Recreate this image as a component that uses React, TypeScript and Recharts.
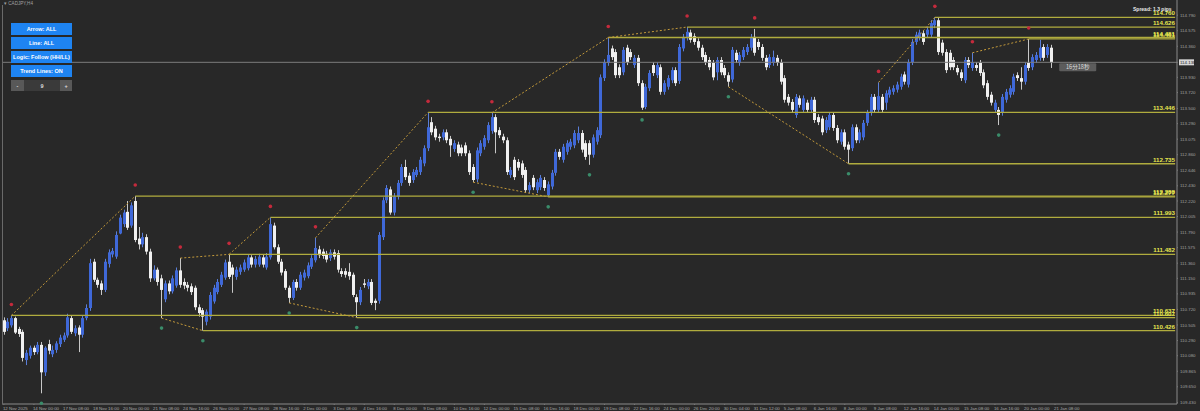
import React from 'react'
import { ComposedChart, Bar, XAxis, YAxis, ReferenceLine, ReferenceDot } from 'recharts'

// CADJPY H4 candles
const opens = [
  110.57, 110.46, 110.50, 110.60, 110.45, 110.41, 110.02, 110.08, 110.19, 110.13,
  110.23, 109.85, 110.24, 110.10, 110.16, 110.24, 110.30, 110.36, 110.60, 110.39,
  110.47, 110.37, 110.60, 110.74, 111.38, 111.13, 111.08, 110.99, 111.35, 111.48,
  111.45, 111.77, 111.90, 112.07, 111.88, 112.22, 111.70, 111.62, 111.72, 111.52,
  111.15, 111.27, 111.15, 110.86, 111.08, 110.97, 111.05, 111.26, 111.10, 111.06,
  111.04, 111.02, 110.75, 110.71, 110.55, 110.62, 110.83, 110.96, 111.06, 111.16,
  111.38, 111.30, 111.17, 111.24, 111.27, 111.29, 111.44, 111.34, 111.34, 111.44,
  111.30, 111.44, 111.88, 111.58, 111.38, 111.25, 111.02, 110.88, 111.10, 111.02,
  111.16, 111.18, 111.31, 111.40, 111.55, 111.52, 111.49, 111.43, 111.51, 111.50,
  111.25, 111.25, 111.24, 111.20, 110.89, 110.82, 111.08, 111.04, 111.10, 110.84,
  110.84, 111.72, 112.23, 112.38, 112.06, 112.28, 112.47, 112.69, 112.57, 112.51,
  112.58, 112.62, 112.74, 112.95, 113.31, 113.22, 113.11, 113.10, 113.17, 113.08,
  112.94, 113.00, 112.96, 112.99, 112.88, 112.69, 112.52, 112.88, 112.97, 113.06,
  113.19, 113.38, 113.20, 113.11, 113.06, 112.58, 112.79, 112.76, 112.74, 112.65,
  112.37, 112.54, 112.37, 112.41, 112.51, 112.30, 112.42, 112.61, 112.90, 112.79,
  112.90, 112.97, 112.99, 113.06, 113.16, 113.02, 113.02, 112.86, 113.04, 113.13,
  113.92, 114.13, 114.33, 114.28, 114.07, 114.00, 114.34, 114.28, 114.10, 114.20,
  113.85, 113.52, 113.78, 114.10, 113.96, 114.07, 113.73, 113.80, 113.89, 114.03,
  113.88, 114.33, 114.48, 114.55, 114.50, 114.43, 114.34, 114.24, 114.17, 114.13,
  114.00, 114.17, 114.06, 113.96, 113.90, 114.27, 114.13, 114.21, 114.28, 114.34,
  114.49, 114.42, 114.35, 114.20, 114.10, 114.13, 114.20, 114.14, 113.92, 113.66,
  113.59, 113.41, 113.64, 113.48, 113.58, 113.48, 113.62, 113.38, 113.36, 113.20,
  113.24, 113.41, 113.23, 113.04, 113.17, 113.00, 112.95, 113.24, 113.06, 113.10,
  113.30, 113.44, 113.66, 113.48, 113.66, 113.58, 113.69, 113.73, 113.76, 113.80,
  113.97, 113.83, 114.14, 114.42, 114.48, 114.54, 114.52, 114.52, 114.65, 114.72,
  114.41, 114.28, 114.27, 114.17, 114.06, 114.00, 113.89, 114.17, 114.06, 114.10,
  114.13, 114.00, 113.85, 113.69, 113.48, 113.48, 113.44, 113.62, 113.69, 113.73,
  113.96, 113.92, 113.87, 114.13, 114.07, 114.17, 114.20, 114.35, 114.24, 114.34,
]
const highs = [
  110.61, 110.60, 110.637, 110.62, 110.48, 110.44, 110.16, 110.22, 110.22, 110.27,
  110.27, 110.21, 110.30, 110.22, 110.28, 110.37, 110.40, 110.66, 110.64, 110.50,
  110.50, 110.64, 110.79, 111.42, 111.42, 111.16, 111.12, 111.42, 111.55, 111.57,
  111.80, 112.03, 112.10, 112.22, 112.20, 112.288, 111.86, 111.78, 111.76, 111.56,
  111.33, 111.30, 111.20, 111.12, 111.12, 111.19, 111.30, 111.43, 111.15, 111.10,
  111.08, 111.05, 110.79, 110.74, 110.72, 110.96, 111.06, 111.14, 111.24, 111.41,
  111.482, 111.34, 111.31, 111.34, 111.41, 111.48, 111.47, 111.46, 111.49, 111.48,
  111.50, 111.993, 111.92, 111.62, 111.42, 111.28, 111.05, 111.13, 111.14, 111.24,
  111.27, 111.37, 111.47, 111.71, 111.60, 111.56, 111.53, 111.55, 111.55, 111.54,
  111.29, 111.29, 111.36, 111.23, 110.93, 111.03, 111.14, 111.14, 111.14, 110.87,
  111.79, 112.27, 112.44, 112.42, 112.33, 112.51, 112.73, 112.79, 112.61, 112.66,
  112.69, 112.83, 112.99, 113.446, 113.38, 113.26, 113.15, 113.21, 113.21, 113.12,
  113.06, 113.04, 113.00, 113.03, 112.92, 112.73, 112.96, 113.06, 113.13, 113.31,
  113.44, 113.42, 113.24, 113.15, 113.10, 112.69, 112.83, 112.80, 112.78, 112.69,
  112.48, 112.58, 112.52, 112.58, 112.55, 112.49, 112.65, 112.94, 112.94, 113.01,
  113.06, 113.08, 113.20, 113.25, 113.20, 113.06, 113.06, 113.14, 113.24, 113.97,
  114.18, 114.481, 114.37, 114.32, 114.11, 114.35, 114.38, 114.32, 114.24, 114.24,
  113.89, 113.84, 114.03, 114.14, 114.14, 114.11, 113.89, 113.96, 114.07, 114.07,
  114.39, 114.53, 114.626, 114.59, 114.54, 114.47, 114.38, 114.28, 114.21, 114.17,
  114.21, 114.21, 114.10, 114.00, 114.35, 114.31, 114.28, 114.35, 114.39, 114.53,
  114.60, 114.46, 114.39, 114.24, 114.25, 114.30, 114.24, 114.18, 113.96, 113.70,
  113.63, 113.70, 113.68, 113.68, 113.62, 113.66, 113.66, 113.42, 113.40, 113.38,
  113.45, 113.45, 113.27, 113.21, 113.21, 113.04, 113.28, 113.28, 113.21, 113.34,
  113.48, 113.70, 113.70, 113.86, 113.70, 113.75, 113.80, 113.82, 113.87, 113.98,
  114.01, 114.18, 114.46, 114.56, 114.59, 114.58, 114.63, 114.72, 114.76, 114.76,
  114.45, 114.32, 114.31, 114.21, 114.10, 114.04, 114.21, 114.21, 114.27, 114.14,
  114.17, 114.04, 113.89, 113.73, 113.62, 113.52, 113.70, 113.77, 113.82, 113.98,
  114.00, 114.07, 114.14, 114.461, 114.25, 114.28, 114.45, 114.39, 114.39, 114.38,
]
const lows = [
  110.37, 110.42, 110.47, 110.38, 110.34, 110.00, 109.95, 110.04, 110.09, 110.10,
  109.56, 109.80, 110.10, 110.06, 110.12, 110.20, 110.27, 110.33, 110.38, 110.35,
  110.13, 110.33, 110.57, 110.70, 111.10, 111.02, 110.92, 110.96, 111.30, 111.44,
  111.42, 111.76, 111.86, 111.82, 111.85, 111.65, 111.55, 111.58, 111.48, 111.10,
  111.12, 111.05, 110.60, 110.82, 110.93, 110.94, 111.02, 111.02, 111.00, 110.97,
  110.92, 110.71, 110.62, 110.426, 110.50, 110.58, 110.80, 110.93, 111.03, 111.13,
  111.14, 110.95, 111.13, 111.20, 111.24, 111.26, 111.30, 111.30, 111.31, 111.30,
  111.27, 111.41, 111.55, 111.35, 111.19, 110.99, 110.81, 110.85, 110.98, 110.99,
  111.12, 111.15, 111.28, 111.37, 111.43, 111.42, 111.37, 111.39, 111.41, 111.23,
  111.17, 111.16, 111.13, 110.89, 110.607, 110.78, 111.02, 111.00, 110.78, 110.71,
  110.80, 111.68, 112.19, 112.03, 112.02, 112.24, 112.43, 112.51, 112.43, 112.47,
  112.55, 112.58, 112.70, 112.91, 113.13, 113.06, 113.04, 113.06, 113.02, 112.83,
  112.90, 112.84, 112.84, 112.84, 112.58, 112.48, 112.48, 112.84, 112.93, 113.02,
  113.15, 112.88, 113.09, 113.02, 112.58, 112.54, 112.51, 112.64, 112.54, 112.33,
  112.33, 112.37, 112.33, 112.37, 112.36, 112.277, 112.38, 112.57, 112.79, 112.75,
  112.86, 112.93, 112.95, 113.02, 112.89, 112.79, 112.72, 112.82, 113.00, 113.09,
  113.88, 114.09, 114.17, 113.92, 113.92, 113.96, 114.10, 114.17, 114.06, 113.81,
  113.48, 113.49, 113.74, 113.95, 113.92, 113.69, 113.69, 113.76, 113.85, 113.81,
  113.84, 114.29, 114.44, 114.41, 114.38, 114.30, 114.17, 114.10, 114.03, 113.89,
  113.89, 113.96, 113.92, 113.80, 113.86, 114.13, 114.09, 114.17, 114.24, 114.30,
  114.23, 114.31, 114.16, 114.03, 114.06, 114.09, 114.09, 113.83, 113.58, 113.54,
  113.44, 113.37, 113.51, 113.44, 113.44, 113.44, 113.30, 113.27, 113.13, 113.16,
  113.20, 113.19, 113.02, 113.00, 112.93, 112.735, 112.91, 113.02, 113.02, 113.06,
  113.26, 113.40, 113.44, 113.44, 113.44, 113.48, 113.65, 113.69, 113.72, 113.76,
  113.83, 113.79, 114.10, 114.38, 114.44, 114.38, 114.48, 114.48, 114.61, 114.24,
  114.23, 113.99, 114.03, 114.03, 113.96, 113.88, 113.85, 114.06, 114.02, 114.02,
  113.95, 113.78, 113.62, 113.54, 113.44, 113.27, 113.40, 113.58, 113.65, 113.69,
  113.88, 113.76, 113.83, 114.02, 114.03, 114.13, 114.16, 114.16, 114.20, 114.06,
]
const closes = [
  110.41, 110.55, 110.60, 110.40, 110.38, 110.05, 110.12, 110.19, 110.13, 110.23,
  109.85, 110.19, 110.15, 110.16, 110.25, 110.33, 110.36, 110.61, 110.41, 110.46,
  110.37, 110.60, 110.74, 111.36, 111.13, 111.06, 110.99, 111.38, 111.51, 111.53,
  111.75, 111.99, 112.06, 111.85, 112.16, 111.68, 111.62, 111.72, 111.52, 111.15,
  111.27, 111.10, 110.99, 111.08, 110.97, 111.15, 111.26, 111.06, 111.05, 111.02,
  110.96, 110.75, 110.67, 110.62, 110.69, 110.92, 111.02, 111.10, 111.20, 111.37,
  111.17, 111.20, 111.27, 111.30, 111.37, 111.44, 111.34, 111.42, 111.45, 111.34,
  111.45, 111.90, 111.58, 111.38, 111.23, 111.02, 110.88, 111.10, 111.02, 111.20,
  111.23, 111.33, 111.43, 111.57, 111.47, 111.46, 111.41, 111.51, 111.45, 111.27,
  111.21, 111.20, 111.18, 110.92, 110.82, 110.99, 111.06, 111.10, 110.81, 110.81,
  111.75, 112.23, 112.40, 112.06, 112.28, 112.47, 112.69, 112.55, 112.47, 112.62,
  112.65, 112.79, 112.95, 113.24, 113.17, 113.10, 113.09, 113.17, 113.06, 112.99,
  113.02, 112.88, 112.88, 112.88, 112.62, 112.51, 112.92, 113.02, 113.09, 113.27,
  113.38, 113.17, 113.13, 113.06, 112.62, 112.65, 112.55, 112.68, 112.58, 112.37,
  112.44, 112.41, 112.48, 112.54, 112.40, 112.45, 112.61, 112.90, 112.83, 112.97,
  113.02, 113.04, 113.16, 113.16, 112.93, 112.83, 112.86, 113.10, 113.20, 113.93,
  114.14, 114.24, 114.21, 113.96, 113.96, 114.31, 114.14, 114.21, 114.20, 113.85,
  113.51, 113.80, 113.99, 113.99, 114.10, 113.73, 113.85, 113.92, 114.03, 113.85,
  114.35, 114.49, 114.56, 114.45, 114.42, 114.34, 114.21, 114.14, 114.07, 113.93,
  114.17, 114.00, 113.96, 113.87, 114.31, 114.17, 114.24, 114.31, 114.35, 114.49,
  114.27, 114.35, 114.20, 114.07, 114.21, 114.21, 114.13, 113.87, 113.62, 113.58,
  113.48, 113.66, 113.55, 113.64, 113.48, 113.62, 113.34, 113.31, 113.17, 113.34,
  113.41, 113.23, 113.06, 113.17, 112.97, 112.93, 113.24, 113.06, 113.17, 113.30,
  113.44, 113.66, 113.48, 113.67, 113.48, 113.71, 113.76, 113.78, 113.83, 113.94,
  113.87, 114.14, 114.42, 114.52, 114.55, 114.42, 114.59, 114.68, 114.72, 114.28,
  114.27, 114.03, 114.07, 114.07, 114.00, 113.92, 114.17, 114.10, 114.14, 114.06,
  113.99, 113.82, 113.66, 113.58, 113.58, 113.41, 113.66, 113.73, 113.78, 113.94,
  113.92, 113.87, 114.10, 114.06, 114.21, 114.24, 114.34, 114.20, 114.35, 114.138,
]

const xTickIdx = [
  0, 8, 16, 24, 32, 40, 48, 56, 64, 72, 80, 88, 96, 104, 112, 120, 128, 136,
  144, 152, 160, 168, 176, 184, 192, 200, 208, 216, 224, 232, 240, 248, 256, 264, 272, 280,
]
const xTickLabels = [
  '12 Nov 2025', '14 Nov 00:00', '17 Nov 08:00', '18 Nov 16:00', '20 Nov 00:00', '21 Nov 08:00',
  '24 Nov 16:00', '26 Nov 00:00', '27 Nov 08:00', '28 Nov 16:00', '2 Dec 00:00', '3 Dec 08:00',
  '4 Dec 16:00', '8 Dec 00:00', '9 Dec 08:00', '10 Dec 16:00', '12 Dec 00:00', '15 Dec 08:00',
  '16 Dec 16:00', '18 Dec 00:00', '19 Dec 08:00', '22 Dec 16:00', '24 Dec 00:00', '26 Dec 20:00',
  '30 Dec 04:00', '31 Dec 12:00', '5 Jan 08:00', '6 Jan 16:00', '8 Jan 00:00', '9 Jan 08:00',
  '12 Jan 16:00', '14 Jan 00:00', '15 Jan 08:00', '16 Jan 16:00', '20 Jan 00:00', '21 Jan 08:00',
]
const yTicks = [
  114.79, 114.575, 114.36, 113.93, 113.72, 113.5, 113.29, 113.075, 112.86, 112.646,
  112.43, 112.22, 112.005, 111.79, 111.575, 111.36, 111.15, 110.935, 110.72, 110.505,
  110.29, 110.08, 109.865, 109.65, 109.43,
]
const currentPrice = 114.138

// horizontal S/R levels: candle where it starts + price
const levelStart = [2, 35, 53, 60, 71, 94, 113, 145, 161, 182, 225, 248, 273]
const levelValue = [110.637, 112.288, 110.426, 111.482, 111.993, 110.607, 113.446, 112.277, 114.481, 114.626, 112.735, 114.76, 114.461]

// swing points (arrows) and the dotted trend lines between them
const swingHighs = [2, 35, 47, 60, 71, 83, 113, 130, 161, 182, 200, 233, 248, 258, 273]
const swingLows = [10, 42, 53, 76, 94, 125, 145, 156, 170, 193, 225, 265]
const highTrends = [[2, 35], [47, 60], [60, 71], [83, 113], [130, 161], [161, 182], [233, 248], [258, 273]]
const lowTrends = [[42, 53], [76, 94], [125, 145], [193, 225]]

const SLOTS = 313
const BG = '#282828'
const UP = '#3f68d8'
const DOWN = '#f0f0f0'
const LEVEL = '#b0ac3e'
const FONT = '"Liberation Sans", Arial, sans-serif'

const data = Array.from({ length: SLOTS }, (_, i) =>
  i < closes.length
    ? { i, o: opens[i], h: highs[i], l: lows[i], c: closes[i], range: [lows[i], highs[i]] }
    : { i, range: null }
)

const Candle = (props: any) => {
  const { x, y, width, height, payload } = props
  if (!payload || payload.o == null || !height) return null
  const { o, h, l, c } = payload
  const top = Math.min(y, y + height)
  const k = Math.abs(height) / (h - l)
  const bTop = top + (h - Math.max(o, c)) * k
  const bBot = top + (h - Math.min(o, c)) * k
  const up = c >= o
  const cx = Math.round(x + width / 2)
  return (
    <g>
      <line x1={cx + 0.5} x2={cx + 0.5} y1={top} y2={top + Math.abs(height)} stroke={up ? '#5a7ed8' : '#c8c8c8'} strokeWidth={1} />
      <rect x={cx - 1} y={bTop} width={3} height={Math.max(1, bBot - bTop)} fill={up ? UP : DOWN} />
    </g>
  )
}

const XTick = ({ x, y, payload }: any) => {
  const k = xTickIdx.indexOf(payload.value)
  return (
    <text x={x - 1} y={y + 2.6} fontSize={4.4} fill="#a8a8a8" fontFamily={FONT} textAnchor="start">
      {k >= 0 ? xTickLabels[k] : ''}
    </text>
  )
}

const YTick = ({ x, y, payload }: any) => {
  if (payload.value === currentPrice) {
    return (
      <g>
        <rect x={x - 1} y={y - 3} width={15} height={6} fill="#d6d6d6" />
        <text x={x} y={y + 1.6} fontSize={4.4} fill="#222" fontFamily={FONT}>{currentPrice.toFixed(3)}</text>
      </g>
    )
  }
  return (
    <text x={x} y={y + 1.6} fontSize={4.4} fill="#a0a0a0" fontFamily={FONT}>
      {payload.value.toFixed(3)}
    </text>
  )
}

const btn: React.CSSProperties = {
  position: 'absolute',
  left: 11,
  width: 61,
  height: 12,
  background: '#1e84f2',
  color: '#fff',
  fontFamily: FONT,
  fontSize: 5.5,
  fontWeight: 'bold',
  display: 'flex',
  alignItems: 'center',
  justifyContent: 'center',
}

export default function App() {
  return (
    <div style={{ position: 'absolute', left: 0, top: 0, width: 1200, height: 411, background: BG, overflow: 'hidden' }}>
      <ComposedChart width={1200} height={411} data={data} margin={{ top: 0, right: 0, left: 2, bottom: 0 }}>
        <XAxis
          dataKey="i"
          ticks={xTickIdx}
          interval={0}
          height={7}
          tick={<XTick />}
          tickSize={1}
          tickLine={{ stroke: '#7a7a7a' }}
          axisLine={{ stroke: '#8a8a8a' }}
        />
        <YAxis
          orientation="right"
          width={23}
          type="number"
          domain={[109.412, 115.0]}
          allowDataOverflow
          ticks={[...yTicks, currentPrice]}
          interval={0}
          tick={<YTick />}
          tickSize={1}
          tickLine={{ stroke: '#7a7a7a' }}
          axisLine={{ stroke: '#8a8a8a' }}
        />

        <ReferenceLine y={currentPrice} stroke="#7c7c7c" strokeWidth={1} />

        {levelStart.map((s, k) => (
          <ReferenceLine
            key={`lv-${k}`}
            segment={[{ x: s, y: levelValue[k] }, { x: SLOTS - 1, y: levelValue[k] }]}
            stroke={LEVEL}
            strokeWidth={1.3}
          />
        ))}
        {levelValue.map((v, k) => (
          <ReferenceLine
            key={`lb-${k}`}
            y={v}
            stroke="none"
            label={{ value: v.toFixed(3), position: 'insideBottomRight', offset: 2, fill: '#e6e650', fontSize: 6.2, fontWeight: 'bold', fontFamily: FONT }}
          />
        ))}

        {highTrends.map(([a, b], k) => (
          <ReferenceLine
            key={`th-${k}`}
            segment={[{ x: a, y: highs[a] }, { x: b, y: highs[b] }]}
            stroke="#c49a3a"
            strokeDasharray="2 2"
          />
        ))}
        {lowTrends.map(([a, b], k) => (
          <ReferenceLine
            key={`tl-${k}`}
            segment={[{ x: a, y: lows[a] }, { x: b, y: lows[b] }]}
            stroke="#c49a3a"
            strokeDasharray="2 2"
          />
        ))}

        <Bar dataKey="range" barSize={3} shape={<Candle />} isAnimationActive={false} />

        {swingHighs.map((i) => (
          <ReferenceDot
            key={`sh-${i}`}
            x={i}
            y={highs[i]}
            shape={(p: any) => <circle cx={p.cx} cy={p.cy - 11} r={1.8} fill="#c42a3c" />}
          />
        ))}
        {swingLows.map((i) => (
          <ReferenceDot
            key={`sl-${i}`}
            x={i}
            y={lows[i]}
            shape={(p: any) => <circle cx={p.cx} cy={p.cy + 10} r={1.8} fill="#3a8c6a" />}
          />
        ))}

        <ReferenceDot
          x={closes.length - 1}
          y={currentPrice}
          shape={(p: any) => (
            <g>
              <rect x={p.cx + 8} y={p.cy + 1} width={37} height={8} rx={1} fill="#5c5c5c" />
              <text x={p.cx + 26.5} y={p.cy + 7} fontSize={5.6} fill="#dcdcdc" textAnchor="middle" fontFamily='"Noto Sans CJK SC", sans-serif'>
                16分18秒
              </text>
            </g>
          )}
        />
      </ComposedChart>

      <div style={{ position: 'absolute', left: 2, top: 5, width: 1, height: 399, background: '#6a6a6a' }} />
      <div style={{ position: 'absolute', left: 4, top: 1, fontFamily: FONT, fontSize: 4.6, color: '#a0a0a0' }}>▾ CADJPY,H4</div>
      <div style={{ position: 'absolute', left: 1133, top: 6, fontFamily: FONT, fontSize: 5, fontWeight: 'bold', color: '#e8e8e8' }}>Spread: 1.3 pips</div>

      <div style={{ ...btn, top: 23 }}>Arrow: ALL</div>
      <div style={{ ...btn, top: 37 }}>Line: ALL</div>
      <div style={{ ...btn, top: 51 }}>Logic: Follow (HH/LL)</div>
      <div style={{ ...btn, top: 65 }}>Trend Lines: ON</div>
      <div style={{ ...btn, top: 80, height: 11, width: 13, background: '#585858', color: '#ddd' }}>-</div>
      <div style={{ ...btn, top: 80, height: 11, left: 24, width: 36, background: '#3a3a3a', color: '#ddd' }}>9</div>
      <div style={{ ...btn, top: 80, height: 11, left: 60, width: 12, background: '#585858', color: '#ddd' }}>+</div>
    </div>
  )
}
